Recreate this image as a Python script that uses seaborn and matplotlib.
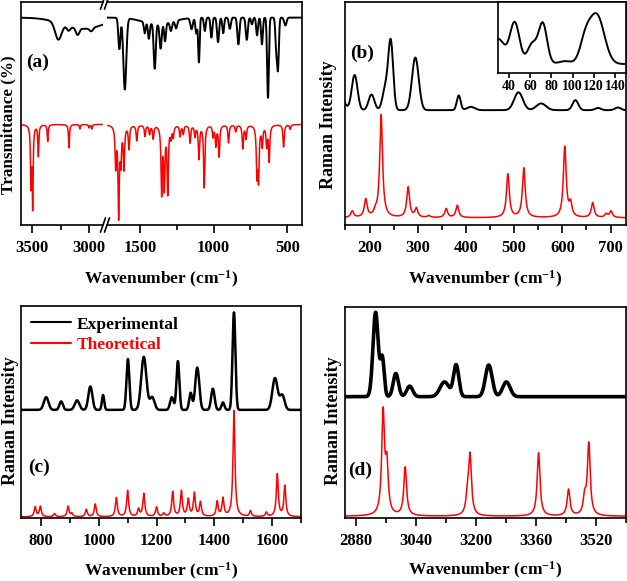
#!/usr/bin/env python3
"""FT-IR and Raman spectra, experimental vs. theoretical, four panels (a)-(d)."""
import numpy as np
import matplotlib
matplotlib.use("Agg")
import matplotlib.pyplot as plt
from matplotlib.ticker import MultipleLocator, FixedLocator
import seaborn as sns

# --- DATA (peak lists, intensities in panel units 0..1) ---
# (a) FT-IR experimental: baseline, absorption bands (cm-1, depth, gaussian sigma)
IR_EXP_BASE = 0.93
IR_EXP_POS = [3270, 3050, 3180, 3100, 2980,
              1640, 1603, 1380, 1468, 1440, 1400, 1360, 1330, 1290, 1255,
              1150, 1118, 1100, 1060, 1015, 970, 935, 890, 832, 775, 740,
              705, 672, 631, 575, 563, 513]
IR_EXP_DEPTH = [0.075, 0.05, 0.02, 0.03, 0.015,
                0.14, 0.32, 0.03, 0.05, 0.07, 0.20, 0.11, 0.08, 0.04, 0.035,
                0.05, 0.07, 0.20, 0.06, 0.09, 0.11, 0.07, 0.05, 0.12, 0.10, 0.03,
                0.08, 0.12, 0.36, 0.13, 0.22, 0.035]
IR_EXP_SIGMA = [28, 180, 15, 15, 15,
                7, 10, 100, 6, 6, 7, 7, 6, 7, 7,
                8, 6, 5, 6, 6, 7, 6, 7, 7, 7, 6,
                6, 6, 6, 6, 6, 8]

# (a) FT-IR theoretical: baseline, bands (cm-1, depth), lorentzian half width
IR_THEO_BASE = 0.451
IR_THEO_POS = [3510, 3495, 3445, 3363, 3176, 3080, 3000, 2975,
               1665, 1645, 1630, 1609, 1575, 1522, 1466, 1435, 1410,
               1353, 1335, 1312, 1290, 1274, 1228, 1206, 1160, 1127, 1100,
               1064, 1004, 985, 963, 899, 850, 802, 780, 706, 695, 670, 640,
               623, 525, 480]
IR_THEO_DEPTH = [0.26, 0.36, 0.14, 0.075, 0.105, 0.02, 0.015, 0.02,
                 0.18, 0.40, 0.15, 0.19, 0.105, 0.07, 0.05, 0.04, 0.06,
                 0.30, 0.27, 0.30, 0.05, 0.05, 0.05, 0.04, 0.08, 0.05, 0.15,
                 0.28, 0.05, 0.09, 0.14, 0.08, 0.03, 0.105, 0.06, 0.21, 0.23,
                 0.09, 0.09, 0.16, 0.10, 0.02]
IR_THEO_GAMMA = 5

# (b) Raman low-wavenumber region
RAMAN_B_EXP_BASE = 0.515
RAMAN_B_EXP_POS = [140, 169, 204, 233, 244, 295, 385, 410, 509, 556, 627, 674, 715]
RAMAN_B_EXP_AMP = [0.06, 0.158, 0.07, 0.10, 0.30, 0.236, 0.066, 0.015, 0.08, 0.03, 0.045, 0.01, 0.012]
RAMAN_B_EXP_SIGMA = [8, 6, 6, 6, 5, 7, 4, 8, 9, 10, 6, 6, 6]
RAMAN_B_THEO_BASE = 0.032
RAMAN_B_THEO_POS = [164, 192, 212, 224, 280, 297, 323, 359, 382, 487, 520, 605, 617, 663, 691, 701]
RAMAN_B_THEO_AMP = [0.029, 0.08, 0.02, 0.46, 0.136, 0.04, 0.008, 0.04, 0.055, 0.195, 0.222, 0.316,
                    0.058, 0.067, 0.016, 0.029]
RAMAN_B_THEO_GAMMA = 3.5

# (b) inset, lattice modes
INSET_BASE = 0.13
INSET_POS = [30, 45.5, 62, 72, 93, 112, 123]
INSET_AMP = [0.35, 0.58, 0.28, 0.56, 0.04, 0.30, 0.68]
INSET_SIGMA = [6, 4.5, 4.5, 4, 6, 5, 7]

# (c) Raman fingerprint region
RAMAN_C_EXP_BASE = 0.51
RAMAN_C_EXP_POS = [818, 870, 925, 971, 1015, 1101, 1156, 1185, 1253, 1274, 1318, 1341,
                   1395, 1430, 1468, 1610, 1635]
RAMAN_C_EXP_AMP = [0.06, 0.04, 0.045, 0.11, 0.07, 0.24, 0.25, 0.06, 0.06, 0.23, 0.08, 0.2,
                   0.1, 0.035, 0.46, 0.15, 0.07]
RAMAN_C_EXP_SIGMA = [8, 6, 8, 7, 4, 5, 9, 8, 6, 5, 5, 7, 6, 5, 5, 9, 8]
RAMAN_C_THEO_BASE = 0.005
RAMAN_C_THEO_POS = [780, 798, 847, 894, 907, 957, 988, 1061, 1100, 1138, 1156, 1200, 1225,
                    1256, 1286, 1310, 1331, 1352, 1410, 1430, 1468, 1525, 1580, 1618, 1644]
RAMAN_C_THEO_AMP = [0.047, 0.049, 0.015, 0.049, 0.015, 0.035, 0.06, 0.09, 0.123, 0.035,
                    0.108, 0.045, 0.015, 0.117, 0.12, 0.08, 0.11, 0.068, 0.07, 0.085,
                    0.50, 0.027, 0.02, 0.2, 0.145]
RAMAN_C_THEO_GAMMA = 4

# (d) Raman C-H / N-H stretching region
RAMAN_D_EXP_BASE = 0.575
RAMAN_D_EXP_POS = [2933, 2951, 2987, 3024, 3117, 3148, 3235, 3282]
RAMAN_D_EXP_AMP = [0.40, 0.18, 0.11, 0.05, 0.07, 0.15, 0.15, 0.07]
RAMAN_D_EXP_SIGMA = [7, 5, 7, 8, 12, 7, 9, 10]
RAMAN_D_THEO_BASE = 0.008
RAMAN_D_THEO_POS = [2953, 2963, 3012, 3178, 3185, 3368, 3448, 3491, 3502]
RAMAN_D_THEO_AMP = [0.48, 0.22, 0.23, 0.08, 0.28, 0.30, 0.125, 0.08, 0.34]
RAMAN_D_THEO_GAMMA = 4.5

XLABEL = "Wavenumber (cm$^{-1}$)"
RED = "#ff0000"


def gauss_sum(x, pos, amp, sigma):
    d = (x[:, None] - np.asarray(pos)) / np.asarray(sigma)
    return (np.asarray(amp) * np.exp(-0.5 * d ** 2)).sum(axis=1)


def lorentz_sum(x, pos, amp, gamma):
    g2 = gamma ** 2
    return (np.asarray(amp) * g2 / ((x[:, None] - np.asarray(pos)) ** 2 + g2)).sum(axis=1)


def style_axis(ax, major=None, minor=None):
    ax.set_yticks([])
    if major is not None:
        ax.xaxis.set_major_locator(major)
        ax.xaxis.set_minor_locator(minor)
    ax.tick_params(axis="x", which="major", direction="out", length=6, width=1.2,
                   labelsize=12, pad=4.5)
    ax.tick_params(axis="x", which="minor", direction="out", length=3.5, width=1.2)
    for s in ax.spines.values():
        s.set_linewidth(1.2)
        s.set_color("black")
    ax.set_ylim(0, 1)


sns.set_style("ticks", {"axes.edgecolor": "black", "xtick.color": "black",
                        "text.color": "black", "axes.labelcolor": "black"})
plt.rcParams["font.family"] = ["Liberation Serif", "DejaVu Serif"]
plt.rcParams["font.weight"] = "bold"
plt.rcParams["axes.labelweight"] = "bold"
plt.rcParams["mathtext.fontset"] = "custom"
plt.rcParams["mathtext.rm"] = "Liberation Serif:bold"
plt.rcParams["mathtext.bf"] = "Liberation Serif:bold"
plt.rcParams["mathtext.default"] = "rm"

W, H = 627, 581
fig = plt.figure(figsize=(W / 100, H / 100), dpi=100)


def px_axes(x0, y_top, x1, y_bot):
    return fig.add_axes([x0 / W, 1 - y_bot / H, (x1 - x0) / W, (y_bot - y_top) / H])


# ---------------- (a) FT-IR with broken x axis ----------------
ax_al = px_axes(20.7, 2, 103, 225)
ax_ar = px_axes(107, 2, 302, 225)
for ax, (lo, hi) in ((ax_al, (3600, 2877)), (ax_ar, (1724, 400))):
    x = np.linspace(lo, hi, 2500)
    exp_t = IR_EXP_BASE - gauss_sum(x, IR_EXP_POS, IR_EXP_DEPTH, IR_EXP_SIGMA)
    theo_t = IR_THEO_BASE - lorentz_sum(x, IR_THEO_POS, IR_THEO_DEPTH, IR_THEO_GAMMA)
    sns.lineplot(x=x, y=exp_t, ax=ax, color="black", lw=1.4, sort=False, estimator=None)
    sns.lineplot(x=x, y=theo_t, ax=ax, color=RED, lw=1.1, sort=False, estimator=None)
    ax.set_xlim(lo, hi)
style_axis(ax_al, FixedLocator([3500, 3000]), FixedLocator([3250]))
style_axis(ax_ar, FixedLocator([1500, 1000, 500]), FixedLocator([1250, 750]))
ax_al.spines["right"].set_visible(False)
ax_ar.spines["left"].set_visible(False)
ax_al.set_xlabel("")
ax_ar.set_xlabel(XLABEL, fontsize=12.5)
ax_ar.xaxis.set_label_coords((161 - 107) / 195, -0.195)
ax_al.set_ylabel("Transmittance (%)", fontsize=12.3)
ax_al.yaxis.set_label_coords(-0.055, 0.45)
# break marks
for ax, xa, dx in ((ax_al, 1.0, 2.5 / 82.3), (ax_ar, 0.0, 2.5 / 195)):
    for ya in (0.0, 1.0):
        ax.plot([xa - dx, xa + dx], [ya - 0.032, ya + 0.032], transform=ax.transAxes,
                color="black", lw=1.2, clip_on=False)
ax_al.text(0.065, 0.73, "(a)", transform=ax_al.transAxes, fontsize=14,
           fontweight="bold", va="center")

# ---------------- (b) Raman low region + inset ----------------
ax_b = px_axes(344.5, 2, 625.5, 225)
xb = np.linspace(148, 731, 3000)
sns.lineplot(x=xb, y=RAMAN_B_EXP_BASE + gauss_sum(xb, RAMAN_B_EXP_POS, RAMAN_B_EXP_AMP, RAMAN_B_EXP_SIGMA),
             ax=ax_b, color="black", lw=1.4, sort=False, estimator=None)
sns.lineplot(x=xb, y=RAMAN_B_THEO_BASE + lorentz_sum(xb, RAMAN_B_THEO_POS, RAMAN_B_THEO_AMP, RAMAN_B_THEO_GAMMA),
             ax=ax_b, color=RED, lw=1.1, sort=False, estimator=None)
ax_b.set_xlim(148, 731)
style_axis(ax_b, MultipleLocator(100), MultipleLocator(50))
ax_b.set_xlabel(XLABEL, fontsize=12.5)
ax_b.xaxis.set_label_coords(0.5, -0.195)
ax_b.set_ylabel("Raman Intensity", fontsize=13)
ax_b.yaxis.set_label_coords(-0.027, 0.45)
ax_b.text(0.02, 0.77, "(b)", transform=ax_b.transAxes, fontsize=14,
          fontweight="bold", va="center")

ax_in = px_axes(498.3, 2, 625.5, 73.3)
xi = np.linspace(30, 150, 800)
sns.lineplot(x=xi, y=INSET_BASE + gauss_sum(xi, INSET_POS, INSET_AMP, INSET_SIGMA),
             ax=ax_in, color="black", lw=1.4, sort=False, estimator=None)
ax_in.set_xlim(30, 150)
style_axis(ax_in, MultipleLocator(20), MultipleLocator(10))
ax_in.tick_params(axis="x", which="major", labelsize=10, length=3.5, pad=1.5)
ax_in.tick_params(axis="x", which="minor", length=0)

# ---------------- (c) Raman fingerprint ----------------
ax_c = px_axes(20.7, 306, 301, 518)
xc = np.linspace(730, 1700, 3000)
sns.lineplot(x=xc, y=RAMAN_C_EXP_BASE + gauss_sum(xc, RAMAN_C_EXP_POS, RAMAN_C_EXP_AMP, RAMAN_C_EXP_SIGMA),
             ax=ax_c, color="black", lw=1.8, sort=False, estimator=None, label="Experimental")
sns.lineplot(x=xc, y=RAMAN_C_THEO_BASE + lorentz_sum(xc, RAMAN_C_THEO_POS, RAMAN_C_THEO_AMP, RAMAN_C_THEO_GAMMA),
             ax=ax_c, color=RED, lw=1.1, sort=False, estimator=None, label="Theoretical")
ax_c.set_xlim(730, 1700)
style_axis(ax_c, MultipleLocator(200), MultipleLocator(100))
ax_c.set_xlabel(XLABEL, fontsize=12.5)
ax_c.xaxis.set_label_coords(0.5, -0.2)
ax_c.set_ylabel("Raman Intensity", fontsize=13)
ax_c.yaxis.set_label_coords(-0.005, 0.46)
ax_c.text(0.026, 0.24, "(c)", transform=ax_c.transAxes, fontsize=14,
          fontweight="bold", va="center")
leg = ax_c.legend(loc="upper left", bbox_to_anchor=(0.0, 1.0), frameon=False,
                  fontsize=12.5, handlelength=2.3, handletextpad=0.3,
                  labelspacing=0.25, borderaxespad=0.2)
for txt, col in zip(leg.get_texts(), ["black", RED]):
    txt.set_color(col)
for line in leg.get_lines():
    line.set_linewidth(1.5)

# ---------------- (d) Raman high region ----------------
ax_d = px_axes(344.5, 307, 625.5, 518)
xd = np.linspace(2850, 3600, 3000)
sns.lineplot(x=xd, y=RAMAN_D_EXP_BASE + gauss_sum(xd, RAMAN_D_EXP_POS, RAMAN_D_EXP_AMP, RAMAN_D_EXP_SIGMA),
             ax=ax_d, color="black", lw=2.6, sort=False, estimator=None)
sns.lineplot(x=xd, y=RAMAN_D_THEO_BASE + lorentz_sum(xd, RAMAN_D_THEO_POS, RAMAN_D_THEO_AMP, RAMAN_D_THEO_GAMMA),
             ax=ax_d, color=RED, lw=1.1, sort=False, estimator=None)
ax_d.set_xlim(2850, 3600)
style_axis(ax_d, MultipleLocator(160), MultipleLocator(80))
ax_d.set_xlabel(XLABEL, fontsize=12.5)
ax_d.xaxis.set_label_coords(0.5, -0.2)
ax_d.set_ylabel("Raman Intensity", fontsize=13)
ax_d.yaxis.set_label_coords(-0.008, 0.46)
ax_d.text(0.012, 0.227, "(d)", transform=ax_d.transAxes, fontsize=14,
          fontweight="bold", va="center")

fig.savefig("out.png", dpi=100)
